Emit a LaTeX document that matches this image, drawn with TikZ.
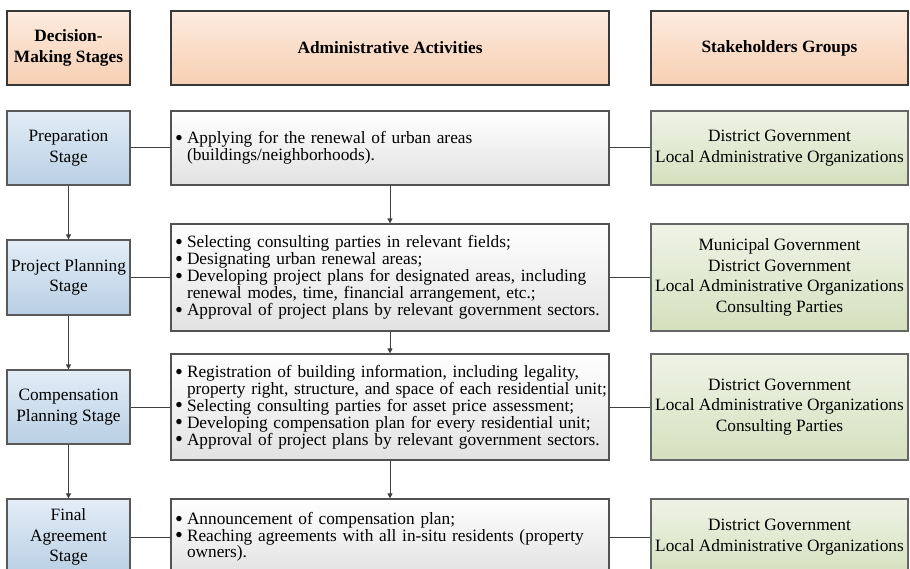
\documentclass[tikz,border=0pt]{standalone}
\usepackage{fontspec}
\usepackage{graphicx}
\setmainfont{Liberation Serif}
\usetikzlibrary{arrows.meta,shadows}
\lineskiplimit=-40pt
\definecolor{hdrtop}{HTML}{FCEBDF}
\definecolor{hdrbot}{HTML}{F7CFB2}
\definecolor{stgtop}{HTML}{E3EDF7}
\definecolor{stgbot}{HTML}{B9CFE4}
\definecolor{actbot}{HTML}{E2E2E2}
\definecolor{grptop}{HTML}{EFF3E6}
\definecolor{grpbot}{HTML}{D5E0BE}
\definecolor{lncol}{HTML}{404040}
\newcommand\bl{\makebox[12pt][l]{\raisebox{-1.7pt}{\scalebox{1.3}{\textbullet}}}}
\newcommand\ct{\hspace*{12pt}}
\newcommand\bx[7]{\node[#6,minimum width={(#4-#2)*1pt},minimum height={(#5-#3)*1pt}] (#1) at ({(#2+#4)/2},{(#3+#5)/2}) {#7};}
\begin{document}
\begin{tikzpicture}[x=1pt,y=-1pt,
  base/.style={draw, inner sep=0pt, line width=1.2pt,
    drop shadow={shadow xshift=1.3pt,shadow yshift=-1.3pt,opacity=.3,fill=black!60}},
  hdr/.style={base, draw=black!78, line width=1.7pt, top color=hdrtop, bottom color=hdrbot,
    font=\bfseries\fontsize{17.3}{21.5}\selectfont, align=center},
  stage/.style={base, draw=black!65, top color=stgtop, bottom color=stgbot,
    font=\fontsize{17.3}{20.5}\selectfont, align=center},
  act/.style={base, draw=black!68, top color=white, bottom color=actbot,
    font=\fontsize{17.3}{13.8}\selectfont, align=left, text width=430pt, inner xsep=4pt},
  grp/.style={base, draw=black!60, top color=grptop, bottom color=grpbot,
    font=\fontsize{17.3}{20.5}\selectfont, align=center},
  conn/.style={draw=lncol, line width=1pt},
  arr/.style={conn, -{Triangle[length=5pt,width=5pt]}}
]
\useasboundingbox (0,0) rectangle (910,569);
\clip (0,0) rectangle (910,569);
% headers
\bx{h1}{7}{11}{130}{85}{hdr}{Decision-\\Making Stages}
\bx{h2}{171}{11}{609}{85}{hdr}{Administrative Activities}
\bx{h3}{651}{11}{908}{85}{hdr}{Stakeholders Groups}
% stages
\bx{L1}{7}{111}{130}{185}{stage}{Preparation\\Stage}
\bx{L2}{7}{240}{130}{315}{stage}{Project Planning\\Stage}
\bx{L3}{7}{370}{130}{444}{stage}{Compensation\\Planning Stage}
\bx{L4}{7}{499}{130}{575}{stage}{Final\\Agreement\\Stage}
% activities
\bx{M1}{171}{111}{609}{185}{act}{\mbox{\bl Applying for the renewal of urban areas}\\\mbox{\ct (buildings/neighborhoods).}}
\bx{M2}{171}{224}{609}{331}{act}{\mbox{\bl Selecting consulting parties in relevant fields;}\\\mbox{\bl Designating urban renewal areas;}\\\mbox{\bl Developing project plans for designated areas, including}\\\mbox{\ct renewal modes, time, financial arrangement, etc.;}\\\mbox{\bl Approval of project plans by relevant government sectors.}}
\bx{M3}{171}{354}{609}{460}{act}{\mbox{\bl Registration of building information, including legality,}\\\mbox{\ct property right, structure, and space of each residential unit;}\\\mbox{\bl Selecting consulting parties for asset price assessment;}\\\mbox{\bl Developing compensation plan for every residential unit;}\\\mbox{\bl Approval of project plans by relevant government sectors.}}
\bx{M4}{171}{499}{609}{575}{act}{\mbox{\bl Announcement of compensation plan;}\\\mbox{\bl Reaching agreements with all in-situ residents (property}\\\mbox{\ct owners).}}
% stakeholders
\bx{R1}{651}{111}{908}{185}{grp}{District Government\\Local Administrative Organizations}
\bx{R2}{651}{224}{908}{331}{grp}{Municipal Government\\District Government\\Local Administrative Organizations\\Consulting Parties}
\bx{R3}{651}{354}{908}{460}{grp}{District Government\\Local Administrative Organizations\\Consulting Parties}
\bx{R4}{651}{499}{908}{575}{grp}{District Government\\Local Administrative Organizations}
% connectors
\draw[arr] (L1) -- (L2);
\draw[arr] (L2) -- (L3);
\draw[arr] (L3) -- (L4);
\draw[arr] (M1) -- (M2);
\draw[arr] (M2) -- (M3);
\draw[arr] (M3) -- (M4);
\foreach \i in {1,2,3,4}{
  \draw[conn] (L\i) -- (M\i);
  \draw[conn] (M\i) -- (R\i);
}
\end{tikzpicture}
\end{document}
